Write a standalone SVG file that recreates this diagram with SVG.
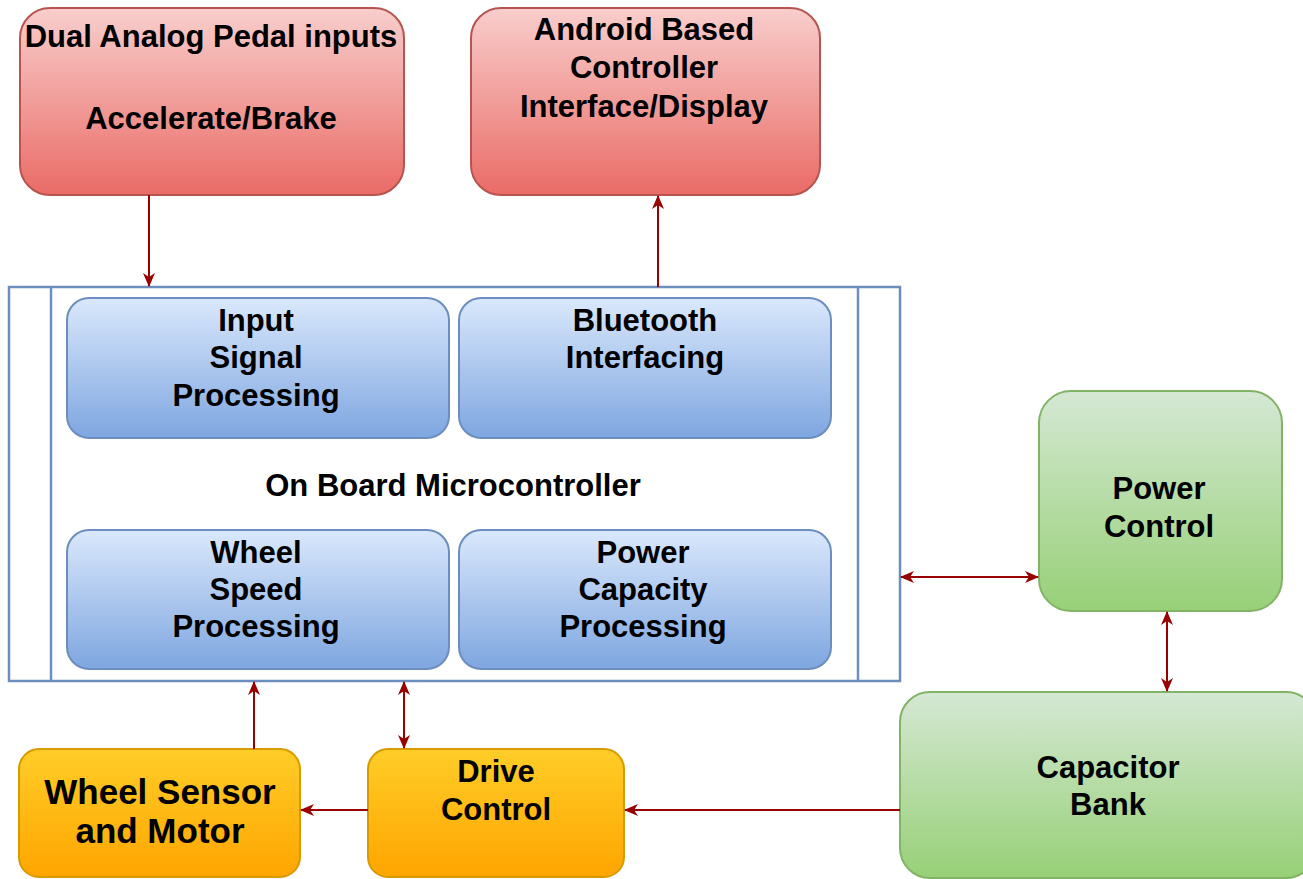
<svg xmlns="http://www.w3.org/2000/svg" width="1303" height="879" viewBox="0 0 1303 879">
<defs>
<linearGradient id="gRed" x1="0" y1="0" x2="0" y2="1"><stop offset="0" stop-color="#f8cecc"/><stop offset="1" stop-color="#ea6b66"/></linearGradient>
<linearGradient id="gBlue" x1="0" y1="0" x2="0" y2="1"><stop offset="0" stop-color="#dae8fc"/><stop offset="1" stop-color="#7ea6e0"/></linearGradient>
<linearGradient id="gGreen" x1="0" y1="0" x2="0" y2="1"><stop offset="0" stop-color="#d5e8d4"/><stop offset="1" stop-color="#97d077"/></linearGradient>
<linearGradient id="gOrange" x1="0" y1="0" x2="0" y2="1"><stop offset="0" stop-color="#ffcd28"/><stop offset="1" stop-color="#ffa500"/></linearGradient>
<marker id="ah" viewBox="0 0 14 12" refX="13" refY="6" markerWidth="14" markerHeight="12" markerUnits="userSpaceOnUse" orient="auto-start-reverse">
<path d="M0,0 L14,6 L0,12 L4,6 z" fill="#990000"/>
</marker>
</defs>
<style>
.red{fill:url(#gRed);stroke:#b85450;stroke-width:2}
.blue{fill:url(#gBlue);stroke:#6c8ebf;stroke-width:2}
.green{fill:url(#gGreen);stroke:#82b366;stroke-width:2}
.orange{fill:url(#gOrange);stroke:#d79b00;stroke-width:2}
.cont{fill:#ffffff;stroke:#6c8ebf;stroke-width:2.5}
text{font-family:"Liberation Sans",Arial,sans-serif;font-weight:bold;font-size:31px;fill:#000;text-anchor:middle}
.big{font-size:35px}
.conn path{fill:none;stroke:#990000;stroke-width:2}
</style>
<rect width="1303" height="879" fill="#ffffff"/>

<g id="pedal">
<rect class="red" x="20" y="8" width="384" height="187" rx="30"/>
<text x="211" y="47">Dual Analog Pedal inputs</text>
<text x="211" y="129">Accelerate/Brake</text>
</g>
<g id="android">
<rect class="red" x="471" y="8" width="349" height="187" rx="30"/>
<text x="644" y="40">Android Based</text>
<text x="644" y="78">Controller</text>
<text x="644" y="117">Interface/Display</text>
</g>

<g id="microcontroller">
<rect class="cont" x="9" y="287" width="891" height="394"/>
<line x1="51" y1="287" x2="51" y2="681" stroke="#6c8ebf" stroke-width="2.5"/>
<line x1="858" y1="287" x2="858" y2="681" stroke="#6c8ebf" stroke-width="2.5"/>
<text x="453" y="496">On Board Microcontroller</text>
</g>
<g id="input-signal">
<rect class="blue" x="67" y="298" width="382" height="140" rx="22"/>
<text x="256" y="331">Input</text>
<text x="256" y="368">Signal</text>
<text x="256" y="406">Processing</text>
</g>
<g id="bluetooth">
<rect class="blue" x="459" y="298" width="372" height="140" rx="22"/>
<text x="645" y="331">Bluetooth</text>
<text x="645" y="368">Interfacing</text>
</g>
<g id="wheel-speed">
<rect class="blue" x="67" y="530" width="382" height="139" rx="22"/>
<text x="256" y="563">Wheel</text>
<text x="256" y="600">Speed</text>
<text x="256" y="637">Processing</text>
</g>
<g id="power-capacity">
<rect class="blue" x="459" y="530" width="372" height="139" rx="22"/>
<text x="643" y="563">Power</text>
<text x="643" y="600">Capacity</text>
<text x="643" y="637">Processing</text>
</g>

<g id="power-control">
<rect class="green" x="1039" y="391" width="243" height="220" rx="32"/>
<text x="1159" y="499">Power</text>
<text x="1159" y="537">Control</text>
</g>
<g id="capacitor-bank">
<rect class="green" x="900" y="692" width="416" height="186" rx="30"/>
<text x="1108" y="778">Capacitor</text>
<text x="1108" y="815">Bank</text>
</g>

<g id="wheel-sensor">
<rect class="orange" x="19" y="749" width="281" height="128" rx="20"/>
<text class="big" x="160" y="804">Wheel Sensor</text>
<text class="big" x="160" y="843">and Motor</text>
</g>
<g id="drive-control">
<rect class="orange" x="368" y="749" width="256" height="128" rx="20"/>
<text x="496" y="782">Drive</text>
<text x="496" y="820">Control</text>
</g>

<g id="connectors" class="conn">
<path d="M149,195 V286" marker-end="url(#ah)"/>
<path d="M658,287 V196" marker-end="url(#ah)"/>
<path d="M901,577 H1038" marker-start="url(#ah)" marker-end="url(#ah)"/>
<path d="M1167,612 V691" marker-start="url(#ah)" marker-end="url(#ah)"/>
<path d="M254,749 V682" marker-end="url(#ah)"/>
<path d="M404,682 V748" marker-start="url(#ah)" marker-end="url(#ah)"/>
<path d="M368,810 H301" marker-end="url(#ah)"/>
<path d="M900,810 H625" marker-end="url(#ah)"/>
</g>
</svg>
